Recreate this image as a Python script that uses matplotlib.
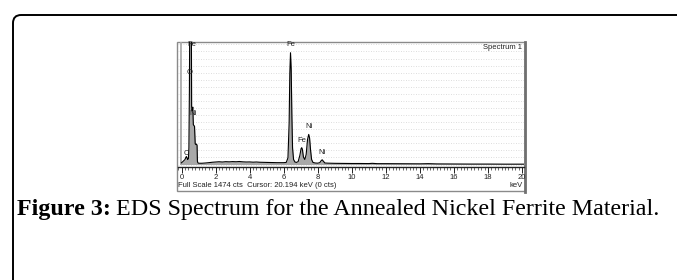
import matplotlib
matplotlib.use("Agg")
import matplotlib.pyplot as plt
from matplotlib.patches import FancyBboxPatch, Rectangle
from matplotlib.lines import Line2D
from matplotlib.ticker import MultipleLocator

# ---- data (energy keV, counts) ----
zero_kev = [-0.12, -0.11, -0.02, -0.01]
zero_cts = [0, 3000, 3000, 0]

energy_kev = [-0.01, 0.05, 0.10, 0.15, 0.20, 0.25, 0.28, 0.32, 0.36,
              0.40, 0.43, 0.46, 0.49, 0.53, 0.57, 0.59, 0.62, 0.66, 0.69, 0.72, 0.76, 0.80,
              0.84, 0.88, 0.91, 0.93, 0.96, 1.0, 1.2, 1.4, 1.6, 1.8, 2.0, 2.2, 2.4, 2.6, 2.8,
              3.0, 3.2, 3.4, 3.6, 3.8, 4.0, 4.2, 4.4, 4.6, 4.8, 5.0, 5.2, 5.4, 5.6, 5.8, 6.0,
              6.15, 6.25, 6.32, 6.36, 6.40, 6.44, 6.48, 6.52, 6.58, 6.66, 6.75, 6.85, 6.95,
              7.02, 7.06, 7.10, 7.16, 7.24, 7.32, 7.40, 7.47, 7.52, 7.58, 7.64, 7.72, 7.85,
              8.0, 8.12, 8.20, 8.26, 8.32, 8.42, 8.6, 8.8, 9.0, 9.5, 10.0, 10.5, 11.0, 11.2,
              11.5, 12.0, 13.0, 14.0, 14.5, 15.0, 16.0, 17.0, 18.0, 19.0, 20.0, 20.12]
counts = [20, 30, 40, 50, 60, 85, 95, 80, 60,
          70, 200, 900, 2200, 3000, 2000, 700, 650, 690, 480, 470, 460, 250,
          240, 245, 230, 40, 20, 15, 15, 18, 22, 27, 30, 33, 30, 34, 32,
          35, 33, 36, 32, 30, 31, 28, 30, 27, 26, 25, 24, 23, 22, 22, 22,
          25, 80, 500, 1100, 1345, 1150, 600, 200, 60, 30, 25, 35, 110,
          190, 202, 180, 90, 60, 120, 300, 362, 320, 170, 60, 25, 18,
          16, 22, 45, 57, 42, 18, 16, 15, 14, 13, 12, 12, 11, 14,
          10, 10, 9, 8, 10, 7, 6, 5, 5, 4, 4, 4]

peak_labels = ["Fe", "O", "Ni", "C", "Fe", "Fe", "Ni", "Ni"]
peak_label_kev = [0.58, 0.50, 0.70, 0.27, 6.40, 7.06, 7.47, 8.26]
peak_label_cts = [1400, 1060, 570, 90, 1400, 250, 410, 105]

xticks = [0, 2, 4, 6, 8, 10, 12, 14, 16, 18, 20]
full_scale = 1474

W, H = 677, 280
fig = plt.figure(figsize=(W / 100, H / 100), dpi=100)
fig.patch.set_facecolor("white")


def fx(x):
    return x / W


def fy(y):
    return 1 - y / H


# outer rounded frame (extends past right/bottom edges)
frame = FancyBboxPatch((fx(13), fy(330)), fx(720) - fx(13), fy(15) - fy(330),
                       boxstyle="round,pad=0,rounding_size=0.012",
                       transform=fig.transFigure, facecolor="none",
                       edgecolor="black", linewidth=1.4, clip_on=False,
                       mutation_aspect=W / H)
fig.patches.append(frame)

# chart box
box_top, box_bot = 41.5, 191
box = Rectangle((fx(176.5), fy(box_bot)), fx(525) - fx(176.5), fy(box_top) - fy(box_bot),
                transform=fig.transFigure, facecolor="white",
                edgecolor="#8a8a8a", linewidth=1.0)
fig.patches.append(box)
fig.lines.append(Line2D([fx(525.2), fx(525.2)], [fy(box_top), fy(box_bot + 0.5)],
                        transform=fig.transFigure, color="#707070", linewidth=2.0))

ax_left, ax_right, ax_top, ax_bot = 177.5, 524, 42, 167
ax = fig.add_axes([fx(ax_left), fy(ax_bot), fx(ax_right) - fx(ax_left), fy(ax_top) - fy(ax_bot)])
ax.set_zorder(5)
ax.set_facecolor("none")
ymin = -2.5 * full_scale / (ax_bot - ax_top - 2.5)
ax.set_xlim(-0.24, 20.12)
ax.set_ylim(ymin, full_scale)

# dotted background grid
ax.yaxis.set_major_locator(MultipleLocator(85))
ax.grid(axis="y", which="major", linestyle=(0, (1, 2)), color="#d2d2d2", linewidth=0.6)
ax.set_axisbelow(True)

ax.fill_between(zero_kev, 0, zero_cts, color="#a8a8a8", linewidth=0, zorder=2)
ax.fill_between(energy_kev, 0, counts, color="#a8a8a8", linewidth=0, zorder=2)
ax.plot(energy_kev, counts, color="black", linewidth=0.8, zorder=3)

for lab, xk, yc in zip(peak_labels, peak_label_kev, peak_label_cts):
    ax.text(xk, yc, lab, fontsize=5.5, color="#222222", ha="center", va="bottom",
            family="Liberation Sans", zorder=4)

ax.text(0.995, 0.985, "Spectrum 1", transform=ax.transAxes, fontsize=5.5,
        color="#222222", ha="right", va="top", family="Liberation Sans")

for s in ["top", "right", "left"]:
    ax.spines[s].set_visible(False)
ax.spines["bottom"].set_color("#222222")
ax.spines["bottom"].set_linewidth(1.0)
ax.set_xticks(xticks)
ax.set_xticklabels([str(t) for t in xticks])
ax.xaxis.set_minor_locator(MultipleLocator(0.2))
ax.tick_params(axis="x", which="major", length=4, width=0.7, direction="out",
               labelsize=5.5, pad=1, colors="#222222")
ax.tick_params(axis="x", which="minor", length=2.2, width=0.5, direction="out", colors="#333333")
ax.tick_params(axis="y", left=False, labelleft=False)
for lbl in ax.get_xticklabels():
    lbl.set_family("Liberation Sans")

fig.text(fx(178.5), fy(185.5), "Full Scale 1474 cts  Cursor: 20.194 keV (0 cts)",
         fontsize=5.5, color="#222222", ha="left", va="center", family="Liberation Sans", zorder=6)
fig.text(fx(523), fy(185.5), "keV", fontsize=5.5, color="#222222", ha="right",
         va="center", family="Liberation Sans", zorder=6)

# caption
cap_size = 17.3
t1 = fig.text(fx(17), fy(215), "Figure 3:", fontsize=cap_size, fontweight="bold",
              family="Liberation Serif", ha="left", va="baseline")
fig.canvas.draw()
bb = t1.get_window_extent()
fig.text(bb.x1 / W + fx(5), fy(215),
         "EDS Spectrum for the Annealed Nickel Ferrite Material.",
         fontsize=cap_size, family="Liberation Serif", ha="left", va="baseline")

fig.savefig("out.png", dpi=100)
